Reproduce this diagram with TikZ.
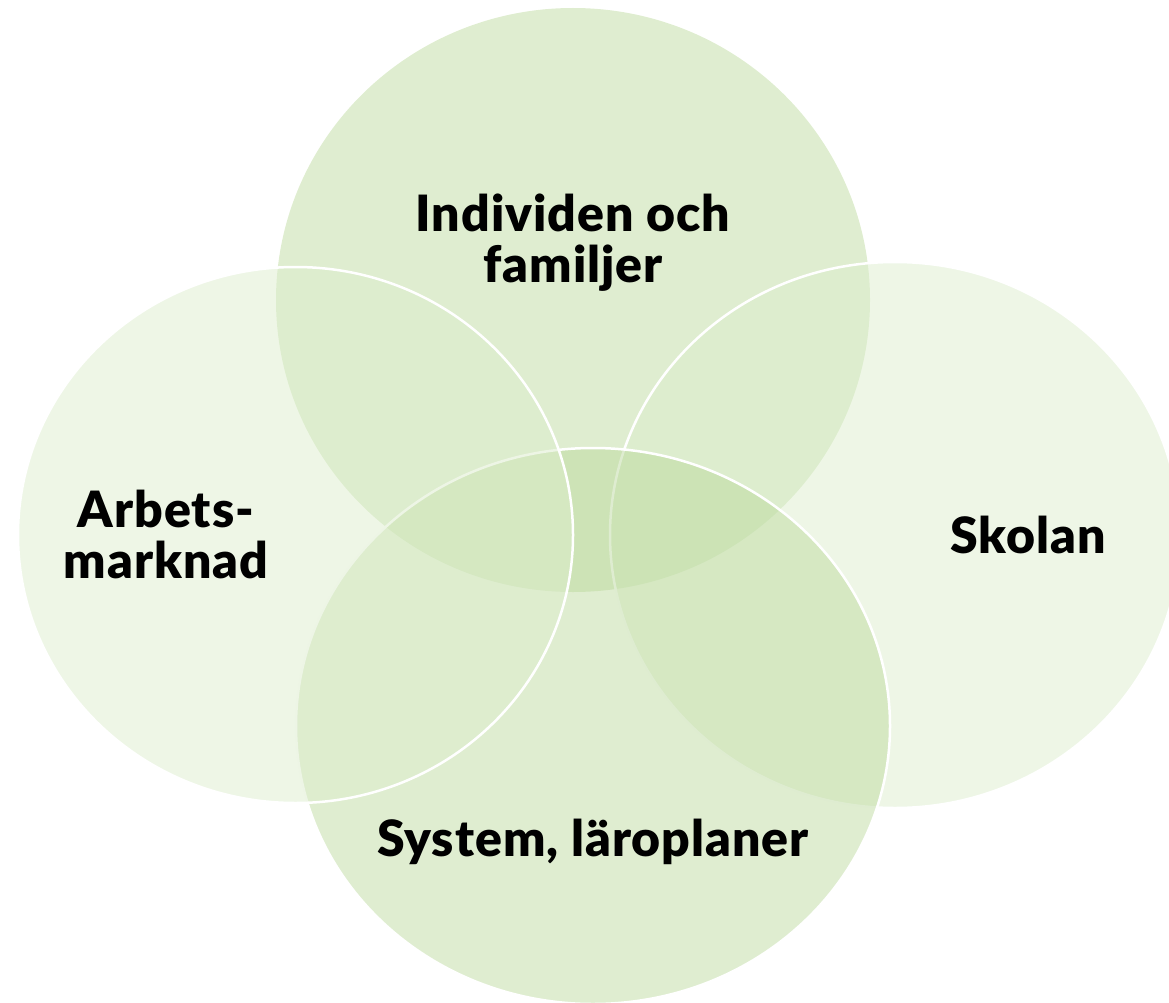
\documentclass[tikz,border=0pt]{standalone}
\usepackage{fontspec}
\setmainfont{Lato}[BoldFont={* Black}, LetterSpace=2]
\definecolor{topfill}{HTML}{DFEDD0}
\definecolor{palefill}{HTML}{DDEDCD}
\definecolor{midfill}{HTML}{B8D797}
\begin{document}
\begin{tikzpicture}[x=1pt,y=-1pt,
  lbl/.style={font=\fontsize{50}{51}\selectfont\bfseries, align=center, text=black, inner sep=0pt},
  ring/.style={draw=white, line width=2.5pt}]
\useasboundingbox (0,0) rectangle (1169,1003);
\clip (0,0) rectangle (1169,1003);
% top circle
\fill[topfill] (573,300) ellipse [x radius=297, y radius=292];
% right circle
\path[ring, fill=palefill, fill opacity=0.5] (895,535) ellipse [x radius=285, y radius=273];
% bottom circle
\path[ring, fill=midfill, fill opacity=0.45] (593,726) ellipse [x radius=297, y radius=278];
% left circle
\path[ring, fill=palefill, fill opacity=0.5] (295.5,535) ellipse [x radius=277.5, y radius=268];
% labels
\node[lbl] (indiv) at (573,243) {Individen och\\familjer};
\node[lbl] (arb) at (166,534) {Arbets-\\marknad};
\node[lbl] (skol) at (1028,535) {Skolan};
\node[lbl] (sys) at (593,842) {System, läroplaner};
\end{tikzpicture}
\end{document}
